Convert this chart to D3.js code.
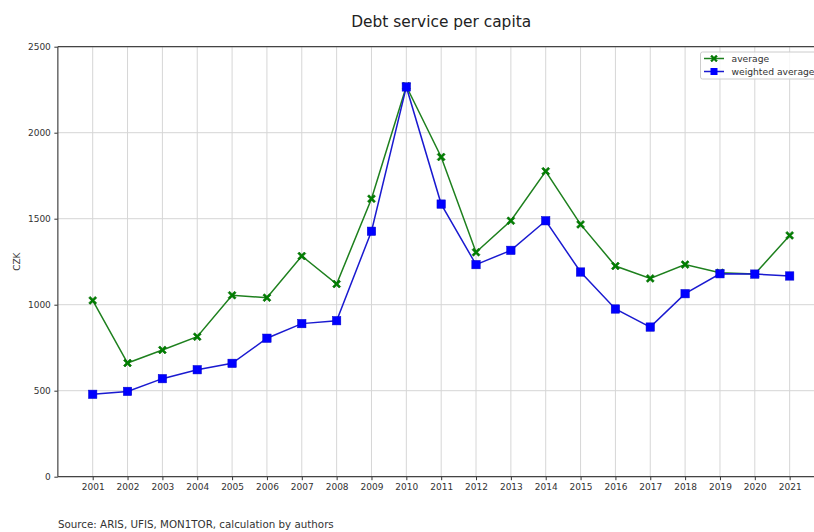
<!DOCTYPE html>
<html><head><meta charset="utf-8">
<script src="https://cdn.jsdelivr.net/npm/d3@7"></script>
<style>body{margin:0;background:#fff;overflow:hidden}svg{display:block;font-family:"DejaVu Sans",sans-serif;overflow:hidden}</style>
</head><body><svg id="c" width="814" height="532"></svg>
<script>
const years = [2001,2002,2003,2004,2005,2006,2007,2008,2009,2010,2011,2012,2013,2014,2015,2016,2017,2018,2019,2020,2021];
const average = [1025,661,737,814,1055,1041,1283,1120,1616,2270,1859,1305,1488,1776,1467,1225,1153,1233,1186,1178,1403];
const weightedAverage = [479,496,570,622,659,805,890,907,1427,2266,1585,1233,1316,1488,1190,975,870,1064,1180,1178,1167];
const yTicks = [0,500,1000,1500,2000,2500];

const svg = d3.select("#c");
const L = 57.85, R = 824.5, T = 46.7, B = 476.7;
const x = d3.scaleLinear().domain([2000,2022]).range([L,R]);
const y = d3.scaleLinear().domain([0,2500]).range([B,T]);

// grid
svg.append("g").selectAll("line").data(years).join("line")
  .attr("x1",d=>x(d)).attr("x2",d=>x(d)).attr("y1",T).attr("y2",B)
  .attr("stroke","#d6d6d6").attr("stroke-width",1);
svg.append("g").selectAll("line").data(yTicks).join("line")
  .attr("x1",L).attr("x2",R).attr("y1",d=>y(d)).attr("y2",d=>y(d))
  .attr("stroke","#d6d6d6").attr("stroke-width",1);

// axes
const xAxis = svg.append("g").attr("transform",`translate(0,${B})`)
  .call(d3.axisBottom(x).tickValues(years).tickFormat(d3.format("d")).tickSize(3.5).tickPadding(3.5));
const yAxis = svg.append("g").attr("transform",`translate(${L},0)`)
  .call(d3.axisLeft(y).tickValues(yTicks).tickFormat(d3.format("d")).tickSize(3.5).tickPadding(3.5));
[xAxis,yAxis].forEach(a=>{
  a.select(".domain").remove();
  a.selectAll("text").attr("font-size",9).attr("fill","#333").attr("font-family","DejaVu Sans");
  a.selectAll("line").attr("stroke","#333");
});
// spines (left, top, bottom; right is outside the picture)
const sp = svg.append("g").attr("stroke","#444").attr("stroke-width",1.2);
sp.append("line").attr("x1",L).attr("x2",L).attr("y1",T).attr("y2",B);
sp.append("line").attr("x1",L).attr("x2",R).attr("y1",T).attr("y2",T);
sp.append("line").attr("x1",L).attr("x2",R).attr("y1",B).attr("y2",B);

const line = d3.line().x((d,i)=>x(years[i])).y(d=>y(d));
svg.append("path").datum(average).attr("d",line).attr("fill","none").attr("stroke","#1e801e").attr("stroke-width",1.5);
svg.append("path").datum(weightedAverage).attr("d",line).attr("fill","none").attr("stroke","#1a1ad0").attr("stroke-width",1.5);

function xMarker(g){
  g.append("path").attr("d", "M-4,-2.5 L-2.5,-4 L0,-1.5 L2.5,-4 L4,-2.5 L1.5,0 L4,2.5 L2.5,4 L0,1.5 L-2.5,4 L-4,2.5 L-1.5,0 Z")
   .attr("fill","#008000").attr("stroke","#006400").attr("stroke-width",0.6);
}
svg.append("g").selectAll("g").data(average).join("g")
  .attr("transform",(d,i)=>`translate(${x(years[i])},${y(d)})`).each(function(){xMarker(d3.select(this));});
svg.append("g").selectAll("rect").data(weightedAverage).join("rect")
  .attr("x",(d,i)=>x(years[i])-4.2).attr("y",d=>y(d)-4.2).attr("width",8.4).attr("height",8.4)
  .attr("fill","#0000ff").attr("stroke","#0000cc").attr("stroke-width",0.5);

// title
svg.append("text").attr("x",(L+R)/2).attr("y",26.5).attr("text-anchor","middle")
  .attr("font-size",15.4).attr("fill","#222").text("Debt service per capita");
// y label
svg.append("text").attr("transform",`translate(20,${(T+B)/2}) rotate(-90)`).attr("text-anchor","middle")
  .attr("font-size",9).attr("fill","#333").text("CZK");
// source
svg.append("text").attr("x",58).attr("y",528).attr("font-size",10.3).attr("fill","#333")
  .text("Source: ARIS, UFIS, MON1TOR, calculation by authors");

// legend
const lg = svg.append("g");
lg.append("rect").attr("x",700.5).attr("y",52).attr("width",140).attr("height",27).attr("rx",2)
  .attr("fill","#fff").attr("fill-opacity",0.8).attr("stroke","#ccc");
const items = [{name:"average",c:"#1e801e",m:"x"},{name:"weighted average",c:"#1a1ad0",m:"s"}];
items.forEach((it,i)=>{
  const yy = 58.5 + i*13;
  lg.append("line").attr("x1",704).attr("x2",724).attr("y1",yy).attr("y2",yy).attr("stroke",it.c).attr("stroke-width",1.5);
  if(it.m==="x"){
    const g = lg.append("g").attr("transform",`translate(714,${yy}) scale(0.85)`); xMarker(g);
  } else {
    lg.append("rect").attr("x",710.5).attr("y",yy-3.5).attr("width",7).attr("height",7).attr("fill","#0000ff");
  }
  lg.append("text").attr("x",731.5).attr("y",yy+3.2).attr("font-size",9.2).attr("fill","#333").text(it.name);
});
</script></body></html>
